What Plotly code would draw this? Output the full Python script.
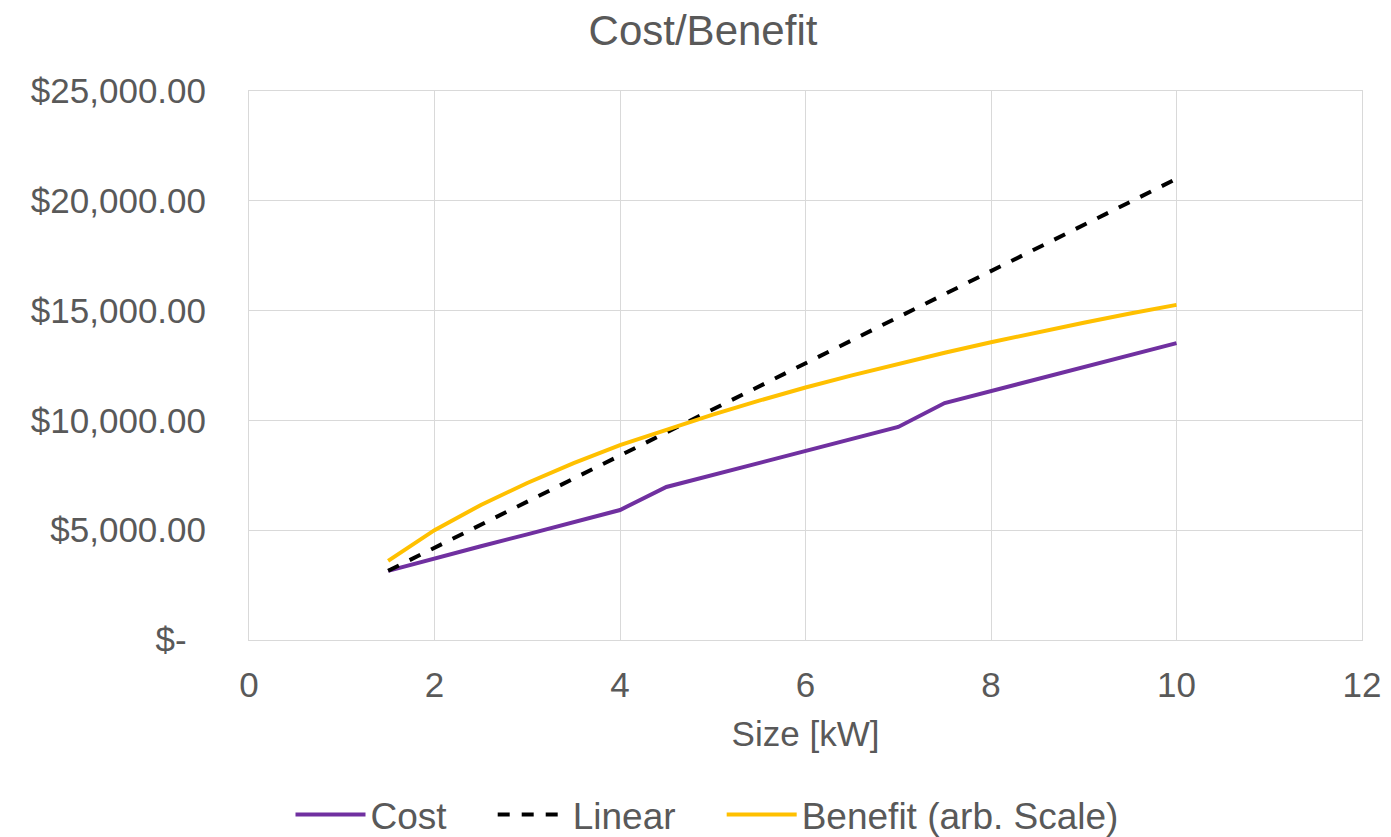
import plotly.graph_objects as go

size_kw = [1.5, 2, 2.5, 3, 3.5, 4, 4.5, 5, 5.5, 6, 6.5, 7, 7.5, 8, 8.5, 9, 9.5, 10]
cost = [3150, 3730, 4270, 4810, 5360, 5920, 6970, 7520, 8060, 8610, 9150, 9700, 10790, 11340, 11880, 12430, 12980, 13520]
linear = [3150, 4200, 5250, 6300, 7350, 8400, 9450, 10500, 11550, 12600, 13650, 14700, 15750, 16800, 17850, 18900, 19950, 21000]
benefit = [3600, 5000, 6150, 7150, 8050, 8870, 9570, 10260, 10900, 11500, 12050, 12580, 13080, 13560, 14020, 14450, 14870, 15260]

y_ticks = [0, 5000, 10000, 15000, 20000, 25000]
y_ticktext = ["$-\u00a0\u00a0", "$5,000.00", "$10,000.00", "$15,000.00", "$20,000.00", "$25,000.00"]
x_ticks = [0, 2, 4, 6, 8, 10, 12]
PAD = "\u00a0\u00a0\u00a0\u00a0"

FONT = "Liberation Sans, Arial, sans-serif"
GREY = "#595959"
FS = 35

fig = go.Figure()
fig.add_trace(go.Scatter(x=size_kw, y=cost, name="Cost" + PAD, mode="lines",
                         line=dict(color="#7030A0", width=4)))
fig.add_trace(go.Scatter(x=size_kw, y=linear, name="Linear" + PAD, mode="lines",
                         line=dict(color="#000000", width=4, dash="dash")))
fig.add_trace(go.Scatter(x=size_kw, y=benefit, name="Benefit (arb. Scale)", mode="lines",
                         line=dict(color="#FFC000", width=4)))

W, H = 1383, 829
fig.update_layout(
    width=W, height=H,
    paper_bgcolor="white", plot_bgcolor="white",
    margin=dict(l=241, r=29, t=83, b=197, autoexpand=False),
    font=dict(family=FONT, color=GREY, size=FS),
    title=dict(text="Cost/Benefit", x=(703 - 8) / W, xref="container", xanchor="center",
               y=1 - (30 - 8) / H, yref="container", yanchor="middle",
               font=dict(size=42, color=GREY, family=FONT)),
    showlegend=True,
    legend=dict(orientation="h", xref="container", x=(707 - 8) / W, xanchor="center",
                yref="container", y=1 - (815 - 8) / H, yanchor="middle",
                font=dict(size=37, color=GREY, family=FONT),
                itemwidth=70,
                bgcolor="rgba(0,0,0,0)"),
)
fig.update_xaxes(range=[0, 12], tickvals=x_ticks, showgrid=True, gridcolor="#d9d9d9", gridwidth=1,
                 showline=True, linecolor="#d9d9d9", linewidth=1, mirror=True,
                 zeroline=False, ticks="", ticklabelstandoff=14,
                 title=dict(text="Size [kW]", font=dict(size=FS, color=GREY, family=FONT), standoff=18),
                 tickfont=dict(size=FS, color=GREY, family=FONT))
fig.update_yaxes(range=[0, 25000], tickvals=y_ticks, ticktext=y_ticktext, showgrid=True,
                 gridcolor="#d9d9d9", gridwidth=1,
                 showline=True, linecolor="#d9d9d9", linewidth=1, mirror=True,
                 zeroline=False, ticks="", ticklabelstandoff=35,
                 tickfont=dict(size=FS, color=GREY, family=FONT))

fig.write_html("out.html")
